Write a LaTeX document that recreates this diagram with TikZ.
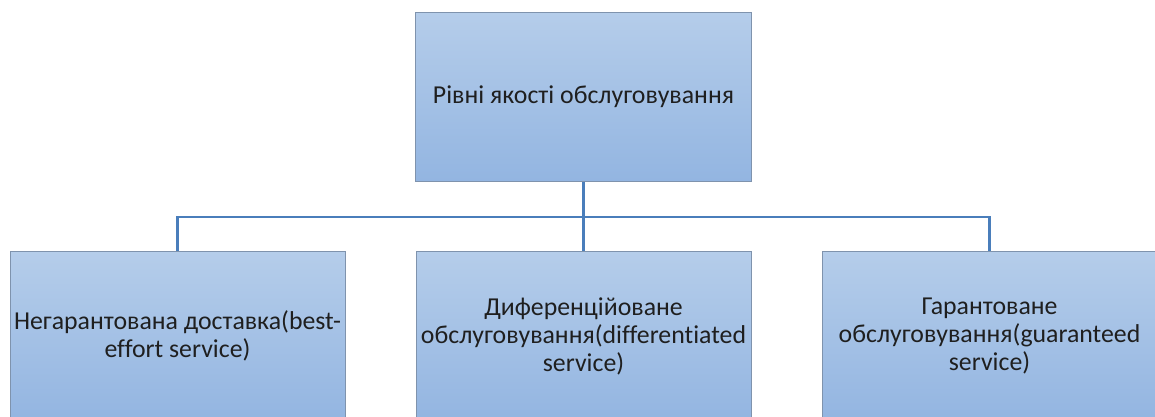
\documentclass[tikz,border=0pt]{standalone}
\usepackage{fontspec}
\setmainfont[Ligatures=NoCommon]{Carlito}
\definecolor{boxtop}{HTML}{B5CDEA}
\definecolor{boxbot}{HTML}{93B5E1}
\definecolor{boxedge}{HTML}{7F93AD}
\definecolor{linkcol}{HTML}{4A7EBB}
\tikzset{
  lvlbox/.style={rectangle, draw=boxedge, line width=1pt, top color=boxtop, bottom color=boxbot,
    minimum width=336pt, minimum height=169pt, inner sep=0pt, align=center,
    font=\fontsize{25.8pt}{28pt}\selectfont, text=black!88},
  link/.style={draw=linkcol, line width=2.6pt}
}
\begin{document}
\begin{tikzpicture}[x=1pt,y=-1pt]
\useasboundingbox (0,0) rectangle (1155,416);
\clip (0,0) rectangle (1155,416);
\node[lvlbox] (top) at (583.5,96.5) {Рівні якості обслуговування};
\node[lvlbox, minimum width=335pt] (left) at (177.5,336) {Негарантована доставка(best-\\effort service)};
\node[lvlbox, minimum width=335pt] (mid) at (583.5,336) {Диференційоване\\обслуговування(differentiated\\service)};
\node[lvlbox, minimum width=335pt] (right) at (989.5,336) {Гарантоване\\обслуговування(guaranteed\\service)};
\coordinate (bar) at (583.5,217);
\draw[link] (top.south) -- (mid.north);
\draw[link] (left.north) |- (bar) -| (right.north);
\end{tikzpicture}
\end{document}
